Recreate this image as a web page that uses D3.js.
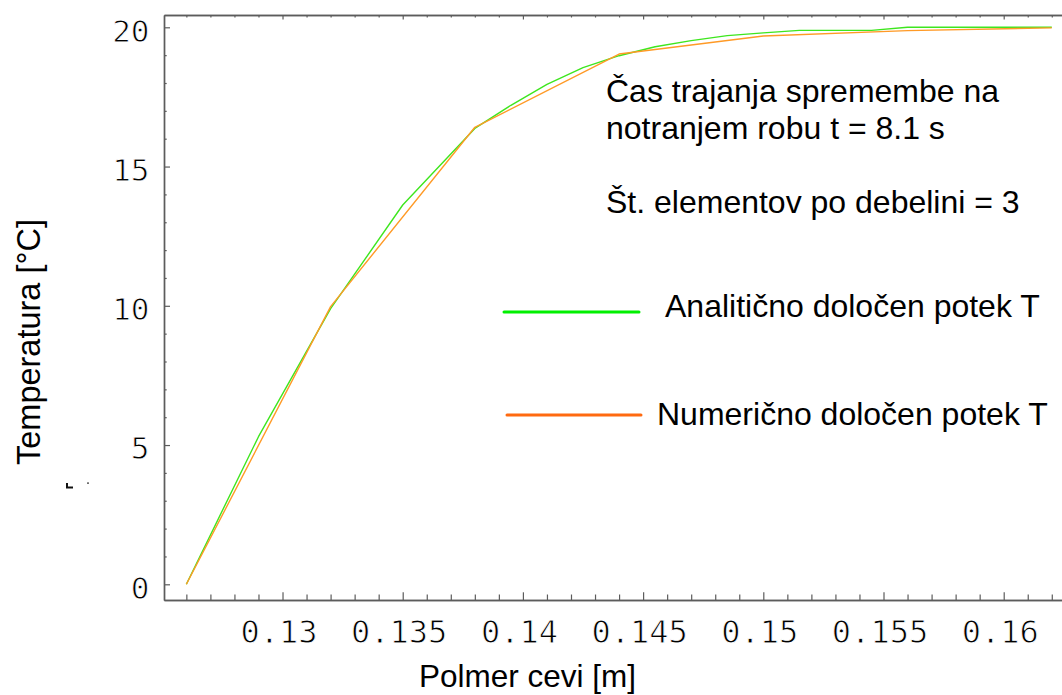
<!DOCTYPE html>
<html>
<head>
<meta charset="utf-8">
<script src="https://cdn.jsdelivr.net/npm/d3@7"></script>
<style>
  html, body { margin: 0; padding: 0; background: #ffffff; }
  svg { display: block; }
</style>
</head>
<body>
<div id="chart"></div>
<script>
// Radial positions [m] and temperatures [°C] across the pipe wall
const xAnalytic = [0.126, 0.129, 0.132, 0.135, 0.138, 0.1395, 0.141, 0.1425, 0.144, 0.1455,
                   0.147, 0.1485, 0.150, 0.1515, 0.1545, 0.156, 0.162];
const tAnalytic = [0, 5.30, 9.90, 13.62, 16.37, 17.20, 17.95, 18.55, 18.98, 19.30,
                   19.52, 19.70, 19.80, 19.89, 19.89, 20.0, 20.0];

const xNumeric = [0.126, 0.132, 0.138, 0.144, 0.150, 0.156, 0.162];
const tNumeric = [0, 9.97, 16.41, 19.04, 19.69, 19.88, 19.98];

const xTickValues = [0.13, 0.135, 0.14, 0.145, 0.15, 0.155, 0.16];
const xTickLabels = ["0.13", "0.135", "0.14", "0.145", "0.15", "0.155", "0.16"];
const yTickValues = [0, 5, 10, 15, 20];
const yTickLabels = ["0", "5", "10", "15", "20"];

const seriesNames = ["Analitično določen potek T", "Numerično določen potek T"];
const noteLines = ["Čas trajanja spremembe na", "notranjem robu t = 8.1 s", "Št. elementov po debelini = 3"];
const xTitle = "Polmer cevi [m]";
const yTitle = "Temperatura [°C]";

const W = 1062, H = 695;
const frame = { left: 164, right: 1062, top: 15, bottom: 600 };
const axisColor = "#5c5c5c";
const sansFont = "'Liberation Sans', Arial, sans-serif";
const monoFont = "'DejaVu Sans Mono', monospace";

const svg = d3.select("#chart").append("svg")
  .attr("width", W).attr("height", H)
  .style("background", "#fff");

const x = d3.scaleLinear().domain([0.12507, 0.162425]).range([frame.left, frame.right]);
const y = d3.scaleLinear().domain([-0.5637, 20.4417]).range([frame.bottom, frame.top]);

// minor tick positions every 0.001 m and every 1 °C
const xMinor = d3.range(126, 163).map(v => v / 1000).filter(v => !xTickValues.some(m => Math.abs(m - v) < 1e-9));
const yMinor = d3.range(0, 21).filter(v => v % 5 !== 0);

function styleAxis(g) {
  g.selectAll("path.domain").attr("stroke", axisColor).attr("stroke-width", 1.4);
  g.selectAll(".tick line").attr("stroke", axisColor).attr("stroke-width", 1.2);
}

// tick labels: light monospaced digits (a thin white outline trims the glyph weight)
function styleTickText(sel, size) {
  sel.attr("fill", "#000")
    .attr("stroke", "#fff").attr("stroke-width", 0.9)
    .style("paint-order", "fill")
    .style("font-family", monoFont).style("font-size", size);
}

// bottom axis
const bottomMinor = svg.append("g").attr("transform", `translate(0,${frame.bottom})`)
  .call(d3.axisBottom(x).tickValues(xMinor).tickSizeInner(-5.5).tickSizeOuter(0).tickFormat(() => ""));
styleAxis(bottomMinor);
const bottomMajor = svg.append("g").attr("transform", `translate(0,${frame.bottom})`)
  .call(d3.axisBottom(x).tickValues(xTickValues).tickSizeInner(-7.7).tickSizeOuter(0)
    .tickFormat((d, i) => xTickLabels[i]));
styleAxis(bottomMajor);
styleTickText(bottomMajor.selectAll(".tick text")
  .attr("y", 43).attr("dy", null).attr("x", -4), "32px");

// top axis (ticks only)
const topMinor = svg.append("g").attr("transform", `translate(0,${frame.top})`)
  .call(d3.axisTop(x).tickValues(xMinor).tickSizeInner(-2.5).tickSizeOuter(0).tickFormat(() => ""));
styleAxis(topMinor);
const topMajor = svg.append("g").attr("transform", `translate(0,${frame.top})`)
  .call(d3.axisTop(x).tickValues(xTickValues).tickSizeInner(-4.5).tickSizeOuter(0).tickFormat(() => ""));
styleAxis(topMajor);

// left axis
const leftMinor = svg.append("g").attr("transform", `translate(${frame.left},0)`)
  .call(d3.axisLeft(y).tickValues(yMinor).tickSizeInner(-2.7).tickSizeOuter(0).tickFormat(() => ""));
styleAxis(leftMinor);
const leftMajor = svg.append("g").attr("transform", `translate(${frame.left},0)`)
  .call(d3.axisLeft(y).tickValues(yTickValues).tickSizeInner(-6).tickSizeOuter(0)
    .tickFormat((d, i) => yTickLabels[i]));
styleAxis(leftMajor);
styleTickText(leftMajor.selectAll(".tick text")
  .attr("x", -14.5).attr("dy", null).attr("y", 13.9), "31px");

// curves
const line = d3.line().x(d => x(d[0])).y(d => y(d[1]));
const analytic = xAnalytic.map((v, i) => [v, tAnalytic[i]]);
const numeric = xNumeric.map((v, i) => [v, tNumeric[i]]);

svg.append("path").datum(analytic)
  .attr("d", line).attr("fill", "none")
  .attr("stroke", "#3ee61e").attr("stroke-width", 1.4).attr("stroke-linejoin", "round");
svg.append("path").datum(numeric)
  .attr("d", line).attr("fill", "none")
  .attr("stroke", "#ff9a26").attr("stroke-width", 1.4).attr("stroke-linejoin", "round");

// annotation text
const notes = svg.append("g")
  .style("font-family", sansFont).style("font-size", "32px").attr("fill", "#000");
const noteY = [102, 139, 213];
noteLines.forEach((t, i) => notes.append("text").attr("x", 606).attr("y", noteY[i]).text(t));

// legend
const legend = [
  { name: seriesNames[0], color: "#00f000", x1: 504, x2: 639, ly: 312, tx: 665, ty: 317 },
  { name: seriesNames[1], color: "#ff6a10", x1: 507, x2: 641, ly: 415, tx: 657, ty: 425 }
];
const lg = svg.append("g");
legend.forEach(l => {
  lg.append("line").attr("x1", l.x1).attr("x2", l.x2).attr("y1", l.ly).attr("y2", l.ly)
    .attr("stroke", l.color).attr("stroke-width", 3).attr("stroke-linecap", "round");
  lg.append("text").attr("x", l.tx).attr("y", l.ty)
    .style("font-family", sansFont).style("font-size", "32px").attr("fill", "#000")
    .text(l.name);
});

// axis titles
svg.append("text")
  .attr("x", 419).attr("y", 687)
  .style("font-family", sansFont).style("font-size", "31.5px").attr("fill", "#000")
  .text(xTitle);
svg.append("text")
  .attr("transform", "translate(39.5,465) rotate(-90)")
  .style("font-family", sansFont).style("font-size", "32.5px").attr("fill", "#000")
  .text(yTitle);

// small stray bracket left of the axis
svg.append("path").attr("d", "M67,483V487.5H73").attr("fill", "none")
  .attr("stroke", "#111").attr("stroke-width", 2);
svg.append("rect").attr("x", 87).attr("y", 482.5).attr("width", 2).attr("height", 1.2).attr("fill", "#333");
</script>
</body>
</html>
